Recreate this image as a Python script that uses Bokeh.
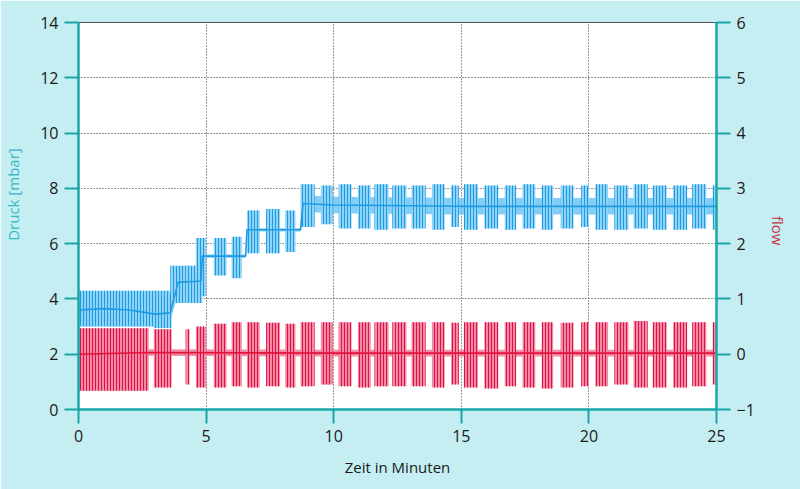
from bokeh.plotting import figure
from bokeh.models import Range1d, LinearAxis, ColumnDataSource, FixedTicker
from bokeh.embed import file_html
from bokeh.resources import INLINE

# ---------------- data ----------------
# shared pump pulse timing [min]
pulse_start = [2.95, 4.2, 4.6, 5.3, 6.0, 6.6, 7.35, 8.1, 8.7, 9.5, 10.2, 10.95, 11.6, 12.3,
               13.05, 13.85, 14.6, 15.1, 15.9, 16.7, 17.4, 18.15, 18.9, 19.7, 20.25, 21.0,
               21.75, 22.5, 23.3, 24.05, 24.85]
pulse_end = [3.65, 4.35, 5.0, 5.8, 6.4, 7.1, 7.9, 8.5, 9.25, 9.95, 10.7, 11.45, 12.15, 12.85,
             13.6, 14.35, 14.9, 15.65, 16.45, 17.15, 17.9, 18.6, 19.4, 20.0, 20.75, 21.55,
             22.3, 23.05, 23.85, 24.6, 25.0]

# Druck [mbar] envelope during each pulse
druck_lo = [2.95, 3.85, 4.1, 4.85, 4.75, 5.65, 5.65, 5.7, 6.6, 6.7, 6.55, 6.55, 6.5, 6.55,
            6.55, 6.5, 6.6, 6.5, 6.55, 6.5, 6.55, 6.5, 6.55, 6.6, 6.5, 6.5, 6.55, 6.5,
            6.5, 6.55, 6.5]
druck_hi = [4.2, 5.2, 6.2, 6.2, 6.25, 7.2, 7.25, 7.2, 8.15, 8.1, 8.15, 8.1, 8.15, 8.1,
            8.1, 8.15, 8.1, 8.15, 8.1, 8.1, 8.15, 8.1, 8.1, 8.1, 8.15, 8.1, 8.15, 8.1,
            8.1, 8.15, 8.1]
# Druck dense blocks at the start
druck_early_start = [0.0, 3.6]
druck_early_end = [3.6, 4.85]
druck_early_lo = [3.0, 3.85]
druck_early_hi = [4.3, 5.2]
# Druck mean level
druck_t = [0, 1.0, 2.0, 3.0, 3.6, 3.9, 4.8, 4.85, 6.55, 6.6, 8.7, 8.8, 10, 15, 20, 25]
druck_level = [3.6, 3.65, 3.6, 3.45, 3.5, 4.6, 4.65, 5.55, 5.55, 6.5, 6.5, 7.45, 7.4, 7.35, 7.35, 7.35]
druck_quiet = [0.3, 0.3, 0.3, 0.3, 0.3, 0.4, 0.4, 0.06, 0.06, 0.06, 0.06, 0.3, 0.3, 0.3, 0.3, 0.3]

# flow envelope during each pulse
flow_lo = [-0.6, -0.55, -0.6, -0.6, -0.58, -0.6, -0.58, -0.6, -0.58, -0.55, -0.58, -0.6, -0.58,
           -0.58, -0.58, -0.6, -0.55, -0.6, -0.62, -0.58, -0.6, -0.62, -0.6, -0.58, -0.58,
           -0.55, -0.6, -0.6, -0.6, -0.58, -0.55]
flow_hi = [0.45, 0.45, 0.5, 0.55, 0.58, 0.58, 0.57, 0.55, 0.58, 0.58, 0.58, 0.58, 0.58, 0.58,
           0.58, 0.58, 0.57, 0.58, 0.58, 0.58, 0.58, 0.58, 0.57, 0.58, 0.58, 0.58, 0.6, 0.58,
           0.58, 0.58, 0.58]
flow_early_start = [0.0]
flow_early_end = [2.75]
flow_early_lo = [-0.66]
flow_early_hi = [0.47]
flow_t = [0, 2.75, 10, 25]
flow_level = [0.0, 0.03, 0.02, 0.02]
flow_quiet = [0.06, 0.06, 0.06, 0.06]

x_ticks = [0, 5, 10, 15, 20, 25]
druck_ticks = [0, 2, 4, 6, 8, 10, 12, 14]
flow_ticks = [-1, 0, 1, 2, 3, 4, 5, 6]

# ---------------- styling ----------------
BG = "#c5eef2"
TEAL = "#1aa6a6"
FONT = "Open Sans"
BLUE_L, BLUE_D = "#8fd4f6", "#1e9be2"
RED_L, RED_D = "#f08aa8", "#e3123c"
NB = "\u00a0"

p = figure(width=800, height=489, x_range=Range1d(0, 25), y_range=Range1d(0, 14),
           output_backend="svg", toolbar_location=None,
           background_fill_color="white", border_fill_color=BG,
           min_border_left=74, min_border_right=83, min_border_top=22, min_border_bottom=80)
p.extra_y_ranges = {"flow": Range1d(-1, 6)}
p.outline_line_color = "#555555"
p.outline_line_width = 1

# blue (Druck)
dq_lo = [l - q for l, q in zip(druck_level, druck_quiet)]
dq_hi = [l + q for l, q in zip(druck_level, druck_quiet)]
p.varea(x=druck_t, y1=dq_lo, y2=dq_hi, fill_color="#63c2f1", fill_alpha=0.8)
dblk = ColumnDataSource(dict(left=druck_early_start + pulse_start,
                             right=druck_early_end + pulse_end,
                             bottom=druck_early_lo + druck_lo,
                             top=druck_early_hi + druck_hi))
p.quad(left="left", right="right", bottom="bottom", top="top", source=dblk,
       fill_color=BLUE_L, line_color=None, hatch_pattern="|", hatch_color=BLUE_D,
       hatch_scale=3, hatch_weight=1)
p.line(druck_t, druck_level, line_color=BLUE_D, line_width=1.6)

# red (flow)
fq_lo = [l - q for l, q in zip(flow_level, flow_quiet)]
fq_hi = [l + q for l, q in zip(flow_level, flow_quiet)]
p.varea(x=flow_t, y1=fq_lo, y2=fq_hi, fill_color="#f07090", fill_alpha=0.8, y_range_name="flow")
fblk = ColumnDataSource(dict(left=flow_early_start + pulse_start,
                             right=flow_early_end + pulse_end,
                             bottom=flow_early_lo + flow_lo,
                             top=flow_early_hi + flow_hi))
p.quad(left="left", right="right", bottom="bottom", top="top", source=fblk, y_range_name="flow",
       fill_color=RED_L, line_color=None, hatch_pattern="|", hatch_color=RED_D,
       hatch_scale=3, hatch_weight=1)
p.line(flow_t, flow_level, line_color=RED_D, line_width=1.6, y_range_name="flow")

# axes
right = LinearAxis(y_range_name="flow")
p.add_layout(right, "right")
p.xaxis.ticker = FixedTicker(ticks=x_ticks)
p.yaxis[0].ticker = FixedTicker(ticks=druck_ticks)
right.ticker = FixedTicker(ticks=flow_ticks)
right.major_label_overrides = {-1: "\u22121"}
for ax in [p.xaxis[0], p.yaxis[0], right]:
    ax.axis_line_color = TEAL
    ax.axis_line_width = 2.5
    ax.major_tick_line_color = TEAL
    ax.major_tick_line_width = 2
    ax.major_tick_out = 14
    ax.major_tick_in = 0
    ax.minor_tick_line_color = None
    ax.major_label_text_font = FONT
    ax.major_label_text_font_size = "16px"
    ax.major_label_text_color = "#1a1a1a"
    ax.major_label_standoff = 6
    ax.axis_label_text_font = FONT
    ax.axis_label_text_font_size = "15px"
    ax.axis_label_text_font_style = "normal"

p.xaxis.axis_label = "Zeit in Minuten"
p.xaxis.axis_label_text_color = "#1a1a1a"
p.xaxis.axis_label_standoff = 12

p.yaxis[0].axis_label = NB * 11 + "Druck [mbar]"
p.yaxis[0].axis_label_text_color = "#35b8c6"
p.yaxis[0].axis_label_standoff = 14

right.axis_label = "flow" + NB * 5
right.axis_label_text_color = "#c8323c"
right.axis_label_standoff = 20
if "axis_label_orientation" in right.properties():
    right.axis_label_orientation = -1.5707963

# grid
for g in [p.xgrid[0], p.ygrid[0]]:
    g.grid_line_color = "#333333"
    g.grid_line_dash = "1 2"
    g.grid_line_width = 1
p.ygrid[0].ticker = FixedTicker(ticks=druck_ticks)
p.xgrid[0].ticker = FixedTicker(ticks=x_ticks)

open("out.html", "w").write(file_html(p, INLINE))
